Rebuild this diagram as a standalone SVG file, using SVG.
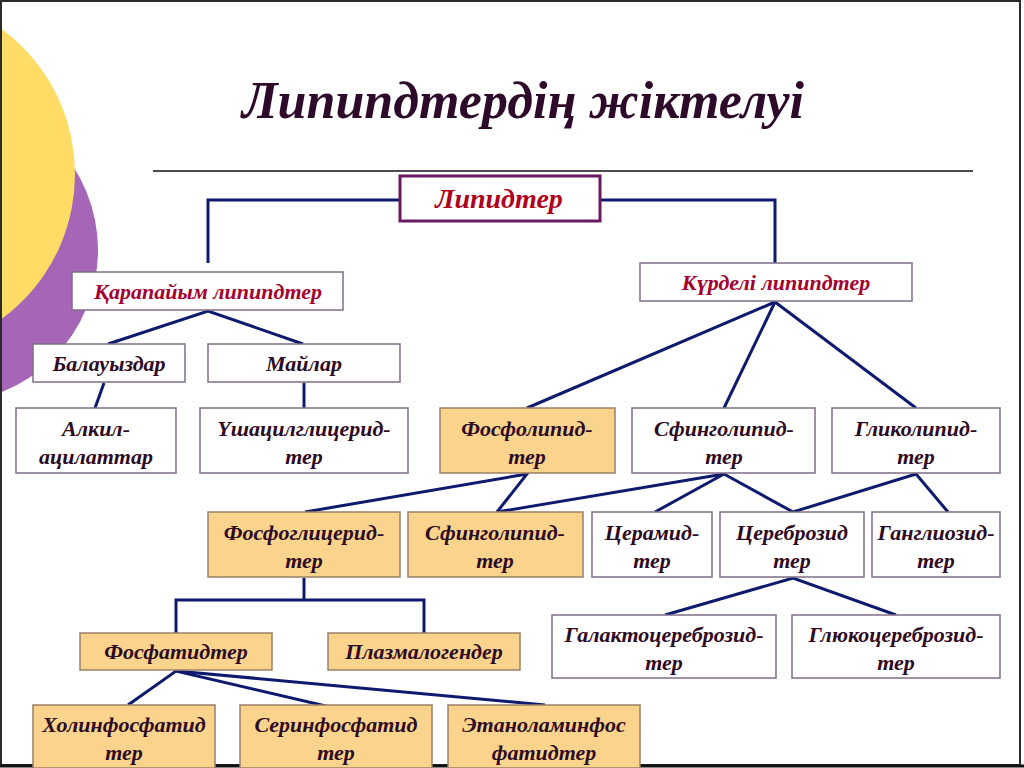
<svg xmlns="http://www.w3.org/2000/svg" width="1024" height="768" viewBox="0 0 1024 768">
<style>
.t{font-family:"Liberation Serif","Times New Roman",serif;font-weight:bold;font-style:italic;text-anchor:middle;}
.n{font-size:22px;fill:#2D0A22;}
.r{font-size:22px;fill:#A5002E;}
.w{fill:#FFFFFF;stroke:#7D6E85;stroke-width:1.5;}
.o{fill:#FAD48C;stroke:#9C8066;stroke-width:1.5;}
.c{stroke:#0E1A6E;stroke-width:3;fill:none;stroke-linejoin:miter;}
</style>
<rect x="0" y="0" width="1024" height="768" fill="#FFFFFF"/>
<circle cx="-55" cy="250" r="153" fill="#A566B8"/>
<circle cx="-105" cy="174" r="180" fill="#FFDC66"/>
<rect x="1" y="1" width="1019" height="764" fill="none" stroke="#2A2A2A" stroke-width="2"/>
<line x1="0" y1="766" x2="1024" y2="766" stroke="#111" stroke-width="3"/>
<text class="t" x="523" y="118" font-size="52" fill="#2E0A2A">Липипдтердің жіктелуі</text>
<line x1="153" y1="171" x2="973" y2="171" stroke="#111" stroke-width="1.5"/>
<g id="connectors">
<polyline class="c" points="400,200 208,200 208,263"/>
<polyline class="c" points="600,200 775,200 775,263"/>
<polyline class="c" points="108,344 208,311 303,344"/>
<line class="c" x1="104" y1="383" x2="95" y2="408"/>
<line class="c" x1="304" y1="383" x2="304" y2="408"/>
<line class="c" x1="775" y1="302" x2="527" y2="408"/>
<line class="c" x1="775" y1="302" x2="724" y2="408"/>
<line class="c" x1="775" y1="302" x2="916" y2="408"/>
<polyline class="c" points="305,512 527,474 497,512"/>
<polyline class="c" points="497,512 724,474 655,512"/>
<polyline class="c" points="724,474 793,512 916,474 948,512"/>
<line class="c" x1="304" y1="578" x2="304" y2="600"/>
<polyline class="c" points="176,633 176,600 424,600 424,633"/>
<polyline class="c" points="665,615 793,578 896,615"/>
<polyline class="c" points="128,705 176,671 330,707"/>
<line class="c" x1="176" y1="671" x2="545" y2="705"/>
</g>
<g id="lipidter"><rect x="400" y="176" width="200" height="45" fill="#FFFFFF" stroke="#6A1A62" stroke-width="3"/><text class="t" x="499" y="208" font-size="28" fill="#B0001A">Липидтер</text></g>
<g id="karapaiym"><rect class="w" x="72" y="272" width="271" height="38"/><text class="t r" x="208" y="299">Қарапайым липипдтер</text></g>
<g id="kurdeli"><rect class="w" x="640" y="263" width="272" height="38"/><text class="t r" x="776" y="290">Күрделі липипдтер</text></g>
<g id="balauyzdar"><rect class="w" x="33" y="344" width="152" height="38"/><text class="t n" x="109" y="371">Балауыздар</text></g>
<g id="mailar"><rect class="w" x="208" y="344" width="192" height="38"/><text class="t n" x="304" y="371">Майлар</text></g>
<g id="alkil"><rect class="w" x="16" y="408" width="160" height="65"/><text class="t n" x="96" y="436">Алкил-</text><text class="t n" x="96" y="464">ацилаттар</text></g>
<g id="ushacil"><rect class="w" x="200" y="408" width="208" height="65"/><text class="t n" x="304" y="436">Үшацилглицерид-</text><text class="t n" x="304" y="464">тер</text></g>
<g id="fosfolipid"><rect class="o" x="440" y="408" width="175" height="65"/><text class="t n" x="527" y="436">Фосфолипид-</text><text class="t n" x="527" y="464">тер</text></g>
<g id="sfingolipid1"><rect class="w" x="632" y="408" width="183" height="65"/><text class="t n" x="724" y="436">Сфинголипид-</text><text class="t n" x="724" y="464">тер</text></g>
<g id="glikolipid"><rect class="w" x="832" y="408" width="168" height="65"/><text class="t n" x="916" y="436">Гликолипид-</text><text class="t n" x="916" y="464">тер</text></g>
<g id="fosfoglicerid"><rect class="o" x="208" y="512" width="192" height="65"/><text class="t n" x="304" y="540">Фосфоглицерид-</text><text class="t n" x="304" y="568">тер</text></g>
<g id="sfingolipid2"><rect class="o" x="408" y="512" width="175" height="65"/><text class="t n" x="495" y="540">Сфинголипид-</text><text class="t n" x="495" y="568">тер</text></g>
<g id="ceramid"><rect class="w" x="592" y="512" width="120" height="65"/><text class="t n" x="652" y="540">Церамид-</text><text class="t n" x="652" y="568">тер</text></g>
<g id="cerebrozid"><rect class="w" x="720" y="512" width="144" height="65"/><text class="t n" x="792" y="540">Цереброзид</text><text class="t n" x="792" y="568">тер</text></g>
<g id="gangliozid"><rect class="w" x="872" y="512" width="128" height="65"/><text class="t n" x="936" y="540">Ганглиозид-</text><text class="t n" x="936" y="568">тер</text></g>
<g id="fosfatidter"><rect class="o" x="80" y="633" width="192" height="37"/><text class="t n" x="176" y="659">Фосфатидтер</text></g>
<g id="plazmalogender"><rect class="o" x="328" y="633" width="192" height="37"/><text class="t n" x="424" y="659">Плазмалогендер</text></g>
<g id="galakto"><rect class="w" x="552" y="615" width="224" height="63"/><text class="t n" x="664" y="642">Галактоцереброзид-</text><text class="t n" x="664" y="670">тер</text></g>
<g id="gluko"><rect class="w" x="792" y="615" width="208" height="63"/><text class="t n" x="896" y="642">Глюкоцереброзид-</text><text class="t n" x="896" y="670">тер</text></g>
<g id="holin"><rect class="o" x="33" y="705" width="182" height="63"/><text class="t n" x="124" y="732">Холинфосфатид</text><text class="t n" x="124" y="760">тер</text></g>
<g id="serin"><rect class="o" x="240" y="705" width="192" height="63"/><text class="t n" x="336" y="732">Серинфосфатид</text><text class="t n" x="336" y="760">тер</text></g>
<g id="etanol"><rect class="o" x="448" y="705" width="192" height="63"/><text class="t n" x="544" y="732">Этаноламинфос</text><text class="t n" x="544" y="760">фатидтер</text></g>
</svg>
